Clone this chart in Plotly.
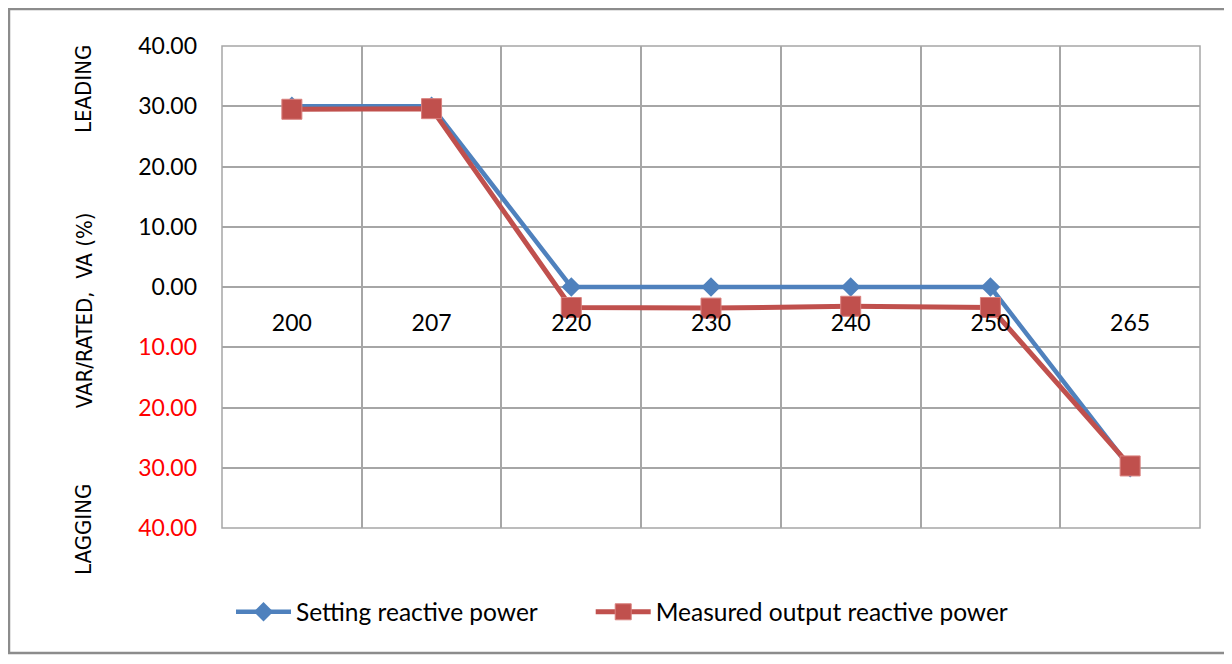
import plotly.graph_objects as go

# ---- data ----
categories = ["200", "207", "220", "230", "240", "250", "265"]
setting_values = [30.0, 30.0, 0.0, 0.0, 0.0, 0.0, -30.0]
measured_values = [29.5, 29.6, -3.4, -3.5, -3.2, -3.4, -29.7]
y_tick_values = [40, 30, 20, 10, 0, -10, -20, -30, -40]
y_tick_labels = ["40.00", "30.00", "20.00", "10.00", "0.00",
                 "<span style='color:#FF0000'>10.00</span>",
                 "<span style='color:#FF0000'>20.00</span>",
                 "<span style='color:#FF0000'>30.00</span>",
                 "<span style='color:#FF0000'>40.00</span>"]
series_names = ["Setting reactive power", "Measured output reactive power"]

BLUE = "#4F81BD"
RED = "#C0504D"
GRID = "#A6A6A6"
FONT = "Lato, Carlito, Open Sans, sans-serif"
NARROW = "Liberation Sans Narrow, DejaVu Sans Condensed, sans-serif"

fig = go.Figure()
fig.add_trace(go.Scatter(
    x=categories, y=setting_values, name=series_names[0], mode="lines+markers",
    line=dict(color=BLUE, width=4.5),
    marker=dict(symbol="diamond", size=15, color=BLUE),
    legend="legend",
))
fig.add_trace(go.Scatter(
    x=categories, y=measured_values, name=series_names[1], mode="lines+markers",
    line=dict(color=RED, width=5),
    marker=dict(symbol="square", size=20, color=RED,
                line=dict(color="#D9807E", width=1)),
    legend="legend2",
))

legend_common = dict(orientation="h", y=-0.174, yanchor="middle", xanchor="left",
                     font=dict(family=FONT, size=24.5, color="#000000"),
                     itemwidth=55, bgcolor="rgba(0,0,0,0)")

fig.update_layout(
    width=1224, height=656,
    margin=dict(l=214, r=32, t=38, b=136),
    paper_bgcolor="white", plot_bgcolor="white",
    font=dict(family=FONT, size=23, color="#000000"),
    showlegend=True,
    legend=dict(x=0.0092, **legend_common),
    legend2=dict(x=0.377, **legend_common),
    xaxis=dict(type="category", anchor="free", position=0.5,
               showgrid=True, gridcolor=GRID, gridwidth=1.5,
               tickson="boundaries", ticks="", ticklabelstandoff=20,
               showline=False, zeroline=False,
               tickfont=dict(family=FONT, size=23, color="#000000"),
               range=[-0.5, 6.5]),
    yaxis=dict(range=[-40, 40], tickvals=y_tick_values, ticktext=y_tick_labels,
               showgrid=True, gridcolor=GRID, gridwidth=1.5,
               zeroline=True, zerolinecolor=GRID, zerolinewidth=1.5,
               showline=False, ticks="", ticklabelstandoff=24,
               tickfont=dict(family=FONT, size=23, color="#000000")),
    shapes=[
        dict(type="rect", xref="paper", yref="paper", x0=0, x1=1, y0=0, y1=1,
             line=dict(color=GRID, width=1.5), layer="above"),
        dict(type="rect", xref="paper", yref="paper", x0=-0.2178, x1=1.0297,
             y0=-0.2593, y1=1.0768, line=dict(color="#8C8C8C", width=2.5)),
    ],
    annotations=[
        dict(text="LEADING", xref="paper", yref="paper", x=-0.141, y=0.911,
             textangle=-90, showarrow=False, xanchor="center", yanchor="middle",
             font=dict(family=NARROW, size=22, color="#000000")),
        dict(text="VAR/RATED,  VA (%)", xref="paper", yref="paper", x=-0.141, y=0.452,
             textangle=-90, showarrow=False, xanchor="center", yanchor="middle",
             font=dict(family=NARROW, size=22, color="#000000")),
        dict(text="LAGGING", xref="paper", yref="paper", x=-0.141, y=-0.004,
             textangle=-90, showarrow=False, xanchor="center", yanchor="middle",
             font=dict(family=NARROW, size=22, color="#000000")),
    ],
)

fig.write_html("out.html")
